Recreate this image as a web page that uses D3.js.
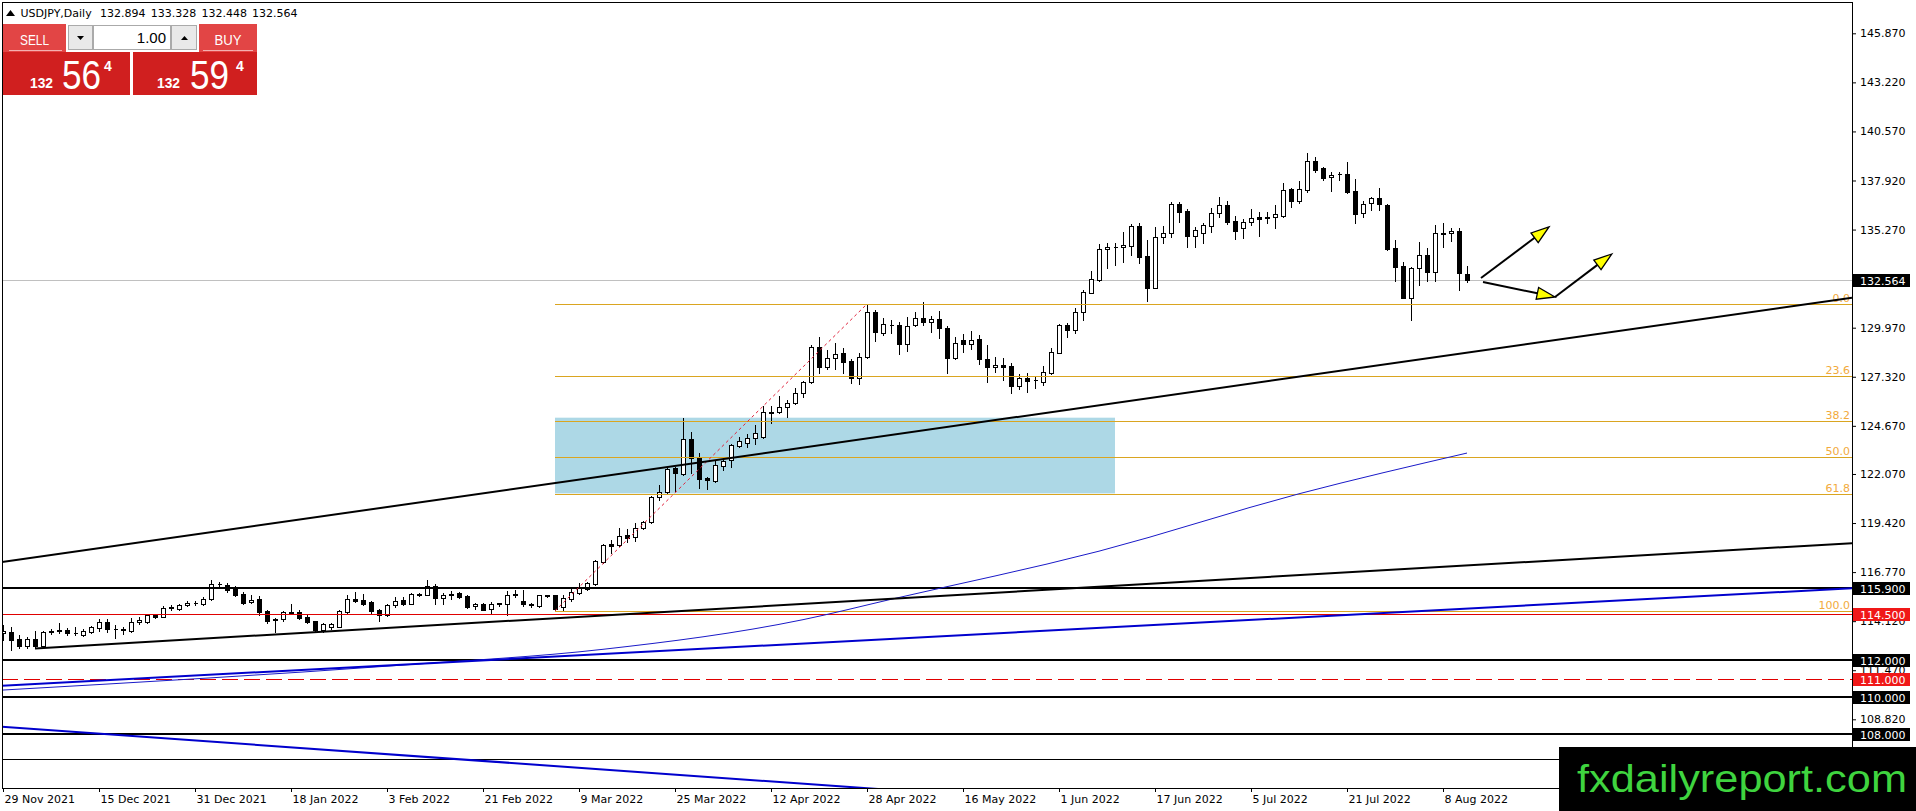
<!DOCTYPE html>
<html>
<head>
<meta charset="utf-8">
<title>USDJPY,Daily</title>
<script src="https://d3js.org/d3.v7.min.js"></script>
<style>
body { margin: 0; background: #fff; }
svg { display: block; }
</style>
</head>
<body>
<script>
var w = 1916;
var h = 811;

// daily bars, one per weekday starting 29 Nov 2021 (index = bar number)
var open = [113.48,113.56,113.17,112.76,113.17,112.80,113.55,113.58,113.65,113.50,
113.38,113.54,113.74,114.06,113.70,113.68,113.61,114.06,114.09,114.46,
114.36,114.85,114.80,114.98,115.10,115.03,115.33,116.13,116.10,115.92,
115.60,115.16,115.30,114.66,114.20,114.22,114.57,114.62,114.34,114.13,
113.65,113.83,113.83,114.62,115.33,115.24,115.16,114.71,114.45,114.98,
115.24,115.07,115.56,115.56,116.01,115.38,115.55,115.63,115.46,114.92,
115.07,114.77,115.06,115.03,115.55,115.21,115.00,114.92,115.50,115.51,
114.87,115.32,115.66,115.84,116.13,117.33,118.29,118.23,118.77,118.65,
119.13,119.46,120.81,121.11,122.38,122.07,123.96,122.92,121.84,121.71,
122.52,122.82,123.60,123.76,123.99,124.05,125.38,125.40,125.67,125.88,
126.43,127.02,128.91,127.87,128.35,128.59,128.17,127.24,128.41,130.80,
129.70,130.12,130.12,129.07,130.12,130.48,130.26,130.44,129.97,128.32,
129.31,129.07,129.36,128.26,127.83,127.96,127.90,126.84,127.24,127.13,
127.06,127.54,128.62,130.12,129.85,130.84,131.86,132.55,134.20,134.33,
134.31,134.40,135.46,133.84,132.13,134.89,135.07,136.65,136.27,134.94,
135.10,135.48,136.15,136.60,135.73,135.34,135.66,135.93,135.88,135.97,
136.00,137.44,136.83,137.41,138.97,138.58,138.09,138.27,138.27,137.35,
136.18,136.69,136.96,136.60,134.26,133.30,131.59,133.18,133.90,132.96,
135.05,135.10,135.19,132.894];

var high = [113.90,113.83,113.38,113.29,113.61,113.60,113.70,114.00,113.77,113.83,
113.72,113.86,114.25,114.25,113.91,113.79,114.27,114.32,114.50,114.50,
114.92,114.98,115.07,115.23,115.19,115.42,116.34,116.25,116.18,116.04,
115.69,115.51,115.46,114.71,114.27,114.66,115.07,114.75,114.53,114.14,
114.00,114.04,114.71,115.51,115.69,115.60,115.21,114.80,115.03,115.42,
115.42,115.63,115.63,116.34,116.13,115.63,115.74,115.69,115.51,115.12,
115.10,115.16,115.12,115.74,115.78,115.78,115.10,115.56,115.56,115.56,
115.53,115.89,116.16,116.24,117.42,118.29,118.51,119.13,119.08,119.41,
119.53,120.88,121.47,122.38,122.46,125.09,124.36,123.22,121.93,122.82,
122.92,123.69,124.08,124.21,124.72,125.76,125.76,126.30,126.07,126.70,
127.11,129.04,129.45,128.77,129.13,128.86,128.26,128.62,131.25,130.93,
130.48,130.39,130.30,130.57,130.84,131.35,130.60,130.87,130.06,129.45,
129.61,129.79,129.58,129.04,128.37,128.32,128.08,127.47,127.54,127.33,
127.90,128.86,130.17,130.24,131.02,132.01,133.03,134.49,134.56,134.56,
135.16,135.59,135.64,134.71,135.39,135.46,136.78,136.78,136.36,135.39,
135.61,136.42,137.01,136.83,136.00,135.82,136.36,136.24,136.24,136.60,
137.80,137.53,137.89,139.39,139.17,138.63,138.40,138.40,138.90,137.98,
136.81,137.05,137.50,136.65,134.71,133.54,133.27,134.62,134.26,135.52,
135.61,135.34,135.34,133.328];

var low = [113.10,112.58,112.67,112.67,112.67,112.78,113.44,113.47,113.38,113.38,
113.33,113.47,113.61,113.56,113.20,113.42,113.56,113.97,114.00,114.30,
114.32,114.71,114.71,114.92,114.98,114.98,115.28,115.99,115.72,115.46,
115.07,115.12,114.45,114.00,113.51,114.14,114.53,114.22,114.00,113.61,
113.56,113.70,113.79,114.57,115.16,114.98,114.57,114.14,114.39,114.89,
114.98,115.03,115.46,115.51,115.03,115.03,115.33,115.38,114.85,114.80,
114.71,114.53,114.92,114.45,115.42,114.96,114.89,114.89,115.42,114.68,
114.72,115.23,115.59,115.80,116.07,117.28,117.79,118.20,118.38,118.47,
119.10,119.40,120.66,120.99,121.17,122.02,122.11,121.33,121.26,121.66,
122.28,122.43,123.50,123.50,123.69,124.00,124.81,125.35,125.13,125.85,
126.25,126.97,127.51,127.74,127.74,127.54,127.00,126.93,128.35,129.27,
129.58,129.67,128.55,128.73,130.08,130.12,129.76,129.43,127.54,128.26,
128.68,128.82,128.01,127.06,127.60,127.15,126.43,126.66,126.48,126.70,
126.88,127.47,128.59,129.49,129.67,130.39,131.83,132.51,133.21,133.36,
133.54,133.88,133.48,131.43,132.10,134.53,134.85,135.70,134.31,134.35,
134.53,135.12,135.93,135.57,134.74,134.80,135.52,134.92,135.61,135.34,
135.93,136.51,136.72,137.32,138.40,137.95,137.37,137.95,137.23,135.61,
135.93,136.33,136.33,134.17,132.51,131.57,130.39,132.28,132.51,132.51,
134.35,134.67,132.01,132.448];

var close = [113.60,113.12,112.76,113.17,112.80,113.56,113.58,113.62,113.47,113.48,
113.61,113.79,114.06,113.70,113.72,113.65,114.09,114.18,114.43,114.32,
114.85,114.87,114.98,115.12,115.08,115.33,116.13,116.12,115.81,115.51,
115.12,115.28,114.62,114.14,114.24,114.59,114.60,114.30,114.06,113.65,
113.95,113.97,114.68,115.33,115.21,115.07,114.68,114.45,114.98,115.21,
115.07,115.60,115.58,116.01,115.38,115.56,115.57,115.42,114.89,115.03,
114.75,115.07,115.08,115.56,115.57,115.03,115.03,115.51,115.52,114.80,
115.35,115.70,115.89,116.16,117.37,118.23,118.18,118.74,118.63,119.17,
119.46,120.81,121.11,122.32,122.11,123.96,122.92,121.80,121.75,122.55,
122.79,123.63,123.85,124.03,124.27,125.40,125.40,125.67,125.88,126.43,
127.02,128.91,127.87,128.35,128.53,128.14,127.24,128.41,130.80,129.76,
130.15,130.10,129.07,130.08,130.51,130.26,130.44,129.94,128.32,129.16,
129.07,129.31,128.26,127.83,127.96,127.87,126.84,127.24,127.11,127.15,
127.56,128.64,130.12,129.85,130.80,131.88,132.60,134.20,134.35,134.35,
134.44,135.46,133.81,132.13,134.89,135.07,136.65,136.24,134.94,135.25,
135.52,136.15,136.60,135.70,135.21,135.66,135.88,135.86,135.93,136.11,
137.41,136.83,137.44,138.97,138.49,138.07,138.22,138.25,137.28,136.11,
136.63,136.96,136.63,134.22,133.23,131.59,133.18,133.90,132.96,135.07,
135.07,135.21,132.91,132.564];

var dateLabels = ["29 Nov 2021", "15 Dec 2021", "31 Dec 2021", "18 Jan 2022", "3 Feb 2022",
    "21 Feb 2022", "9 Mar 2022", "25 Mar 2022", "12 Apr 2022", "28 Apr 2022", "16 May 2022",
    "1 Jun 2022", "17 Jun 2022", "5 Jul 2022", "21 Jul 2022", "8 Aug 2022"];
var dateBars = [0, 12, 24, 36, 48, 60, 72, 84, 96, 108, 120, 132, 144, 156, 168, 180];

var priceTicks = [145.870, 143.220, 140.570, 137.920, 135.270, 132.620, 129.970, 127.320,
    124.670, 122.070, 119.420, 116.770, 114.120, 111.470, 108.820];

// moving average: bar, value
var maBars = [0, 50, 75, 100, 111, 137, 162, 183];
var maValues = [110.40, 111.75, 112.60, 114.20, 115.30, 117.90, 121.00, 123.20];

// drawn objects
var blackLevels = [115.900, 112.000, 110.000, 108.000];
var redLevels = [114.500];
var dashedLevels = [111.000];
var thinLevels = [106.700];

var fibLevels = [0.0, 23.6, 38.2, 50.0, 61.8, 100.0];
var fibLow = [69, 114.68];
var fibHigh = [108, 131.25];

var zoneBars = [69, 139];
var zonePrices = [125.11, 121.02];

var longTrend = [[0, 117.32], [183, 128.62]];
var lowerTrend = [[4, 112.65], [183, 117.13]];
var blueRising = [[0, 110.64], [183, 114.80]];
var blueFalling = [[0, 108.41], [75, 106.11]];

var arrows = [
    [[184.75, 132.65], [193.25, 135.41]],
    [[185.0, 132.44], [194.0, 131.63]],
    [[194.0, 131.63], [201.1, 133.95]]
];

var plotL = 2, plotT = 2, plotR = 1852, plotB = 788;

var x = d3.scaleLinear().domain([0, 183]).range([3, 1467]);
var y = d3.scaleLinear().domain([108.82, 145.87]).range([719.3, 33.3]);

var svg = d3.select("body")
    .append("svg")
    .attr("width", w)
    .attr("height", h);

svg.append("rect").attr("width", w).attr("height", h).attr("fill", "white");

svg.append("defs").append("clipPath").attr("id", "plot")
    .append("rect")
    .attr("x", plotL).attr("y", plotT)
    .attr("width", plotR - plotL).attr("height", plotB - plotT);

var chart = svg.append("g").attr("clip-path", "url(#plot)");

// light blue zone
chart.append("rect")
    .attr("x", x(zoneBars[0]))
    .attr("width", x(zoneBars[1]) - x(zoneBars[0]))
    .attr("y", y(zonePrices[0]))
    .attr("height", y(zonePrices[1]) - y(zonePrices[0]))
    .attr("fill", "#add8e6");

// bid line
var last = close.length - 1;
chart.append("line")
    .attr("x1", plotL).attr("x2", plotR)
    .attr("y1", Math.round(y(close[last])) + 0.5)
    .attr("y2", Math.round(y(close[last])) + 0.5)
    .attr("stroke", "#c0c0c0")
    .attr("shape-rendering", "crispEdges");

// candles
var idx = d3.range(open.length);

chart.selectAll("line.wick")
    .data(idx)
    .enter()
    .append("line")
    .attr("class", "wick")
    .attr("x1", function (i) { return Math.round(x(i)) + 0.5; })
    .attr("x2", function (i) { return Math.round(x(i)) + 0.5; })
    .attr("y1", function (i) { return Math.round(y(high[i])); })
    .attr("y2", function (i) { return Math.round(y(low[i])) + 1; })
    .attr("stroke", "black")
    .attr("shape-rendering", "crispEdges");

chart.selectAll("path.body")
    .data(idx)
    .enter()
    .append("path")
    .attr("class", "body")
    .attr("d", function (i) {
        var c = Math.round(x(i));
        var t = Math.round(y(Math.max(open[i], close[i]))) + 0.5;
        var b = Math.round(y(Math.min(open[i], close[i]))) + 0.5;
        return "M" + (c - 1.5) + "," + t + "h4V" + b + "h-4Z";
    })
    .attr("fill", function (i) { return close[i] >= open[i] ? "white" : "black"; })
    .attr("stroke", "black")
    .attr("shape-rendering", "crispEdges");

// horizontal levels
function hline(p, color, width, dash) {
    var yy = width % 2 ? Math.round(y(p)) + 0.5 : Math.round(y(p));
    var l = chart.append("line")
        .attr("x1", plotL).attr("x2", plotR)
        .attr("y1", yy).attr("y2", yy)
        .attr("stroke", color)
        .attr("stroke-width", width)
        .attr("shape-rendering", "crispEdges");
    if (dash) l.attr("stroke-dasharray", dash);
}
redLevels.forEach(function (p) { hline(p, "#e00000", 1); });
dashedLevels.forEach(function (p) { hline(p, "#e00000", 1, "16,6"); });
thinLevels.forEach(function (p) { hline(p, "black", 1); });
blackLevels.forEach(function (p) { hline(p, "black", 2); });

// fibonacci
var fibRange = fibHigh[1] - fibLow[1];
fibLevels.forEach(function (lv) {
    var p = fibHigh[1] - fibRange * lv / 100;
    var yy = Math.round(y(p)) + 0.5;
    chart.append("line")
        .attr("x1", x(fibLow[0])).attr("x2", plotR)
        .attr("y1", yy).attr("y2", yy)
        .attr("stroke", "#daa520")
        .attr("shape-rendering", "crispEdges");
    chart.append("text")
        .attr("x", plotR - 2)
        .attr("y", yy - 3)
        .attr("text-anchor", "end")
        .attr("font-family", "DejaVu Sans")
        .attr("font-size", "11px")
        .attr("fill", "#f2aa3c")
        .text(lv.toFixed(1));
});
chart.append("line")
    .attr("x1", x(fibLow[0])).attr("y1", y(fibLow[1]))
    .attr("x2", x(fibHigh[0])).attr("y2", y(fibHigh[1]))
    .attr("stroke", "#e0203a")
    .attr("stroke-dasharray", "3,3");

// trend lines extended across the chart
function ray(pts, fromStart, color, width) {
    var slope = (pts[1][1] - pts[0][1]) / (pts[1][0] - pts[0][0]);
    var b0 = fromStart ? pts[0][0] : x.invert(plotL);
    var b1 = x.invert(plotR);
    var seg = [[b0, pts[0][1] + slope * (b0 - pts[0][0])], [b1, pts[0][1] + slope * (b1 - pts[0][0])]];
    chart.append("path")
        .attr("d", d3.line().x(function (d) { return x(d[0]); }).y(function (d) { return y(d[1]); })(seg))
        .attr("fill", "none")
        .attr("stroke", color)
        .attr("stroke-width", width);
}

// moving average
var maPts = maBars.map(function (b, i) { return [b, maValues[i]]; });
chart.append("path")
    .attr("d", d3.line()
        .x(function (d) { return x(d[0]); })
        .y(function (d) { return y(d[1]); })
        .curve(d3.curveMonotoneX)(maPts))
    .attr("fill", "none")
    .attr("stroke", "#1a1ac8")
    .attr("stroke-width", 1);

ray(blueRising, false, "#0000cd", 2);
ray(blueFalling, false, "#0000cd", 2);
ray(longTrend, false, "black", 2);
ray(lowerTrend, true, "black", 2);

// arrows
arrows.forEach(function (a) {
    var x0 = x(a[0][0]), y0 = y(a[0][1]), x1 = x(a[1][0]), y1 = y(a[1][1]);
    var ang = Math.atan2(y1 - y0, x1 - x0);
    var len = 18, hw = 6;
    var bx = x1 - len * Math.cos(ang), by = y1 - len * Math.sin(ang);
    chart.append("line")
        .attr("x1", x0).attr("y1", y0).attr("x2", bx).attr("y2", by)
        .attr("stroke", "black").attr("stroke-width", 2);
    var tri = [[x1, y1],
        [bx + hw * Math.sin(ang), by - hw * Math.cos(ang)],
        [bx - hw * Math.sin(ang), by + hw * Math.cos(ang)]];
    chart.append("path")
        .attr("d", "M" + tri.join("L") + "Z")
        .attr("fill", "#ffff00")
        .attr("stroke", "black")
        .attr("stroke-width", 1.3);
});

// axes
var yAxis = d3.axisRight(y)
    .tickValues(priceTicks)
    .tickFormat(d3.format(".3f"))
    .tickSize(4)
    .tickPadding(4);
var gy = svg.append("g")
    .attr("transform", "translate(" + plotR + ",0)")
    .call(yAxis);
gy.select(".domain").remove();
gy.selectAll("text").attr("font-family", "DejaVu Sans").attr("font-size", "11px").attr("fill", "black");

var xAxis = d3.axisBottom(x)
    .tickValues(dateBars)
    .tickFormat(function (d, i) { return dateLabels[i]; })
    .tickSize(4)
    .tickPadding(3);
var gx = svg.append("g")
    .attr("transform", "translate(0," + plotB + ")")
    .call(xAxis);
gx.select(".domain").remove();
gx.selectAll("text")
    .attr("text-anchor", "start")
    .attr("x", 1)
    .attr("font-family", "DejaVu Sans")
    .attr("font-size", "11px")
    .attr("fill", "black");

svg.append("rect")
    .attr("x", plotL + 0.5).attr("y", plotT + 0.5)
    .attr("width", plotR - plotL).attr("height", plotB - plotT)
    .attr("fill", "none")
    .attr("stroke", "black")
    .attr("shape-rendering", "crispEdges");

// price labels of the levels
function axisBox(p, bg) {
    var yy = Math.round(y(p));
    svg.append("rect")
        .attr("x", plotR + 1).attr("y", yy - 6)
        .attr("width", 57).attr("height", 13)
        .attr("fill", bg);
    svg.append("text")
        .attr("x", plotR + 8).attr("y", yy + 4.5)
        .attr("font-family", "DejaVu Sans")
        .attr("font-size", "11px")
        .attr("fill", "white")
        .text(p.toFixed(3));
}
blackLevels.forEach(function (p) { axisBox(p, "black"); });
redLevels.concat(dashedLevels).forEach(function (p) { axisBox(p, "#f01818"); });
axisBox(close[last], "black");

// logo
svg.append("rect")
    .attr("x", 1559).attr("y", 747)
    .attr("width", w - 1559).attr("height", h - 747)
    .attr("fill", "black");
svg.append("text")
    .attr("x", 1577).attr("y", 792)
    .attr("font-family", "Liberation Sans")
    .attr("font-size", "39px")
    .attr("fill", "#3fd43f")
    .attr("textLength", 330)
    .attr("lengthAdjust", "spacingAndGlyphs")
    .text("fxdailyreport.com");

// title
svg.append("path").attr("d", "M6,16L15,16L10.5,10Z").attr("fill", "black");
var title = ["USDJPY,Daily", open[last].toFixed(3), high[last].toFixed(3), low[last].toFixed(3), close[last].toFixed(3)];
var titleX = [20.5, 100, 150.7, 201.4, 252.1];
svg.selectAll("text.title")
    .data(title)
    .enter()
    .append("text")
    .attr("class", "title")
    .attr("x", function (d, i) { return titleX[i]; })
    .attr("y", 17)
    .attr("font-family", "DejaVu Sans")
    .attr("font-size", "11px")
    .attr("fill", "black")
    .text(function (d) { return d; });

// one click trading panel
var panel = svg.append("g").attr("font-family", "Liberation Sans").attr("fill", "white");
var headRed = "#e24545", boxRed = "#d01f1f";
panel.append("rect").attr("x", 3).attr("y", 24).attr("width", 63).attr("height", 28).attr("fill", headRed);
panel.append("rect").attr("x", 199).attr("y", 24).attr("width", 58).attr("height", 28).attr("fill", headRed);
panel.append("rect").attr("x", 3).attr("y", 52).attr("width", 127).attr("height", 43).attr("fill", boxRed);
panel.append("rect").attr("x", 133).attr("y", 52).attr("width", 124).attr("height", 43).attr("fill", boxRed);
panel.append("line").attr("x1", 9).attr("x2", 62).attr("y1", 50.5).attr("y2", 50.5).attr("stroke", "#f4b0b0");
panel.append("line").attr("x1", 203).attr("x2", 253).attr("y1", 50.5).attr("y2", 50.5).attr("stroke", "#f4b0b0");
panel.append("rect").attr("x", 68.5).attr("y", 25.5).attr("width", 24).attr("height", 24)
    .attr("fill", "#e9e9e9").attr("stroke", "#aaaaaa");
panel.append("rect").attr("x", 93.5).attr("y", 25.5).attr("width", 77).attr("height", 24)
    .attr("fill", "white").attr("stroke", "#aaaaaa");
panel.append("rect").attr("x", 171.5).attr("y", 25.5).attr("width", 25).attr("height", 24)
    .attr("fill", "#e9e9e9").attr("stroke", "#aaaaaa");
panel.append("path").attr("d", "M77,36L84,36L80.5,40Z").attr("fill", "black");
panel.append("path").attr("d", "M181,40L188,40L184.5,36Z").attr("fill", "black");
panel.append("text").attr("x", 166).attr("y", 43).attr("text-anchor", "end")
    .attr("font-size", "15px").attr("fill", "black").text("1.00");
panel.append("text").attr("x", 34.5).attr("y", 45).attr("text-anchor", "middle")
    .attr("font-size", "15px").attr("textLength", 29).attr("lengthAdjust", "spacingAndGlyphs").text("SELL");
panel.append("text").attr("x", 228).attr("y", 45).attr("text-anchor", "middle")
    .attr("font-size", "15px").attr("textLength", 27).attr("lengthAdjust", "spacingAndGlyphs").text("BUY");

var quotes = [["132", "56", "4", 30, 62, 104], ["132", "59", "4", 157, 190, 236]];
quotes.forEach(function (q) {
    panel.append("text").attr("x", q[3]).attr("y", 88).attr("font-size", "15px").attr("font-weight", "bold")
        .attr("textLength", 23).attr("lengthAdjust", "spacingAndGlyphs").text(q[0]);
    panel.append("text").attr("x", q[4]).attr("y", 89).attr("font-size", "41px")
        .attr("textLength", 39).attr("lengthAdjust", "spacingAndGlyphs").text(q[1]);
    panel.append("text").attr("x", q[5]).attr("y", 71).attr("font-size", "14px").attr("font-weight", "bold").text(q[2]);
});
</script>
</body>
</html>
